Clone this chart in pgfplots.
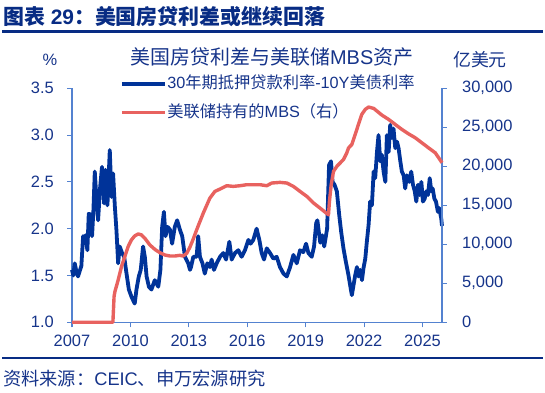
\documentclass[border=0pt]{standalone}
\usepackage{fontspec}
\setmainfont{Liberation Sans}
\newfontfamily\cjk{Noto Sans CJK SC}
\usepackage{pgfplots}
\usepackage{pgfplotstable}
\pgfplotsset{compat=1.18}
\definecolor{sblue}{RGB}{0,51,153}
\definecolor{sred}{RGB}{232,98,95}
\definecolor{axc}{RGB}{84,130,208}
\definecolor{txt}{RGB}{22,52,138}
\definecolor{hdr}{RGB}{8,44,132}

\pgfplotstableread{
year spread
2007.00 1.56
2007.07 1.50
2007.14 1.63
2007.22 1.55
2007.31 1.49
2007.40 1.55
2007.48 1.60
2007.57 1.92
2007.63 1.88
2007.69 1.93
2007.79 1.77
2007.86 2.16
2007.96 2.15
2008.03 1.92
2008.10 2.20
2008.17 2.61
2008.25 2.34
2008.34 2.09
2008.44 2.43
2008.54 2.66
2008.65 2.27
2008.72 2.63
2008.82 2.25
2008.94 2.84
2009.03 2.34
2009.11 2.59
2009.20 2.24
2009.28 1.99
2009.37 1.63
2009.45 1.81
2009.57 1.74
2009.68 1.70
2009.80 1.52
2009.92 1.35
2010.06 1.27
2010.22 1.20
2010.31 1.35
2010.43 1.49
2010.53 1.56
2010.65 1.81
2010.74 1.70
2010.83 1.49
2010.95 1.38
2011.08 1.35
2011.25 1.45
2011.43 1.38
2011.54 1.56
2011.63 2.02
2011.72 2.18
2011.80 1.92
2011.91 2.02
2012.03 1.99
2012.14 1.84
2012.28 2.02
2012.40 2.09
2012.54 1.99
2012.66 1.92
2012.80 1.70
2012.97 1.63
2013.06 1.56
2013.11 1.59
2013.23 1.70
2013.40 1.70
2013.48 1.92
2013.57 1.70
2013.70 1.63
2013.82 1.52
2013.95 1.63
2014.08 1.59
2014.17 1.67
2014.29 1.56
2014.43 1.63
2014.60 1.70
2014.77 1.74
2014.91 1.67
2015.08 1.86
2015.20 1.67
2015.37 1.74
2015.54 1.77
2015.71 1.70
2015.88 1.77
2016.06 1.88
2016.17 1.84
2016.31 1.88
2016.48 2.00
2016.62 1.88
2016.74 1.74
2016.86 1.67
2017.00 1.79
2017.17 1.74
2017.34 1.68
2017.51 1.70
2017.68 1.59
2017.86 1.52
2018.03 1.49
2018.20 1.59
2018.37 1.72
2018.54 1.63
2018.71 1.77
2018.88 1.75
2019.02 1.84
2019.14 1.74
2019.31 1.70
2019.43 1.81
2019.54 2.06
2019.60 2.09
2019.66 1.99
2019.75 1.85
2019.85 1.93
2019.95 1.81
2020.10 2.00
2020.20 2.68
2020.30 2.72
2020.38 2.50
2020.48 2.47
2020.60 2.40
2020.72 2.15
2020.82 1.97
2020.94 1.79
2021.06 1.65
2021.20 1.50
2021.28 1.40
2021.37 1.29
2021.46 1.40
2021.54 1.50
2021.63 1.59
2021.71 1.49
2021.80 1.56
2021.89 1.45
2021.97 1.58
2022.06 1.68
2022.14 1.86
2022.23 2.04
2022.31 2.29
2022.40 2.25
2022.49 2.61
2022.57 2.54
2022.66 2.82
2022.74 3.00
2022.83 2.72
2022.91 2.79
2023.00 2.61
2023.09 2.50
2023.17 3.00
2023.26 2.82
2023.34 3.11
2023.43 2.97
2023.51 3.07
2023.60 2.86
2023.69 2.93
2023.77 2.86
2023.86 2.72
2023.94 2.61
2024.03 2.57
2024.11 2.43
2024.20 2.57
2024.32 2.50
2024.42 2.61
2024.51 2.47
2024.60 2.40
2024.68 2.29
2024.77 2.47
2024.85 2.36
2024.94 2.50
2025.02 2.29
2025.11 2.32
2025.19 2.40
2025.28 2.36
2025.37 2.54
2025.45 2.40
2025.52 2.43
2025.61 2.32
2025.69 2.29
2025.79 2.18
2025.86 2.22
2025.96 2.11
2026.00 2.03
}\spreadtbl

\pgfplotstableread{
year mbs
2007.00 0
2009.10 0
2009.16 3300
2009.20 3900
2009.37 5408
2009.54 7125
2009.71 8412
2009.88 9700
2010.05 10558
2010.22 11073
2010.40 11331
2010.57 11202
2010.74 10773
2011.00 9915
2011.25 9357
2011.51 8927
2011.77 8627
2012.03 8498
2012.28 8498
2012.54 8584
2012.71 8498
2012.89 8841
2013.05 9600
2013.23 10700
2013.40 11846
2013.74 13992
2014.08 15923
2014.34 16781
2014.60 17082
2014.94 17511
2015.28 17425
2015.63 17511
2015.97 17640
2016.31 17640
2016.66 17640
2017.00 17511
2017.26 17855
2017.68 17940
2018.03 17855
2018.37 17425
2018.71 16781
2019.06 16138
2019.40 15300
2019.74 14636
2020.17 13777
2020.22 15500
2020.31 17640
2020.43 19357
2020.60 20000
2020.77 20430
2020.94 20859
2021.11 21717
2021.20 22361
2021.37 22790
2021.54 24078
2021.71 25365
2021.88 26653
2022.06 27297
2022.23 27597
2022.49 27425
2022.66 27082
2022.91 26567
2023.26 26009
2023.60 25365
2023.94 24722
2024.28 24164
2024.63 23649
2024.97 23005
2025.31 22361
2025.66 21717
2026.00 20450
}\mbstbl

\begin{document}
\begin{tikzpicture}
\path[use as bounding box] (0,0) rectangle (545bp,393bp);
% header
\node[anchor=west, text=hdr, font=\fontsize{21}{24}\selectfont\bfseries, inner sep=0pt] at (3bp,376bp) {{\cjk\bfseries 图表} 29{\cjk\bfseries ：美国房贷利差或继续回落}};
\draw[hdr, line width=2.6bp] (2bp,361.5bp) -- (543bp,361.5bp);
% footer
\draw[hdr, line width=2.2bp] (2bp,35bp) -- (543bp,35bp);
\node[anchor=west, text=txt, font=\fontsize{18.3}{20}\selectfont, inner sep=0pt] at (3bp,14bp) {{\cjk 资料来源：}CEIC{\cjk 、申万宏源研究}};
% chart title and units
\node[text=txt, font=\fontsize{20}{22}\selectfont, inner sep=0pt] at (272bp,336bp) {{\cjk 美国房贷利差与美联储}MBS{\cjk 资产}};
\node[text=txt, font=\fontsize{16.5}{18}\selectfont, inner sep=0pt] at (50bp,333bp) {\%};
\node[text=txt, font=\fontsize{18}{20}\selectfont, inner sep=0pt] at (480bp,333bp) {\cjk 亿美元};

\begin{axis}[
  at={(72bp,70.7bp)}, anchor=south west,
  width=370bp, height=234bp, scale only axis,
  xmin=2007, xmax=2026, ymin=1, ymax=3.5,
  xtick={2007,2010,2013,2016,2019,2022,2025},
  xticklabels={2007,2010,2013,2016,2019,2022,2025},
  ytick={1,1.5,2,2.5,3,3.5},
  axis x line*=bottom, axis y line*=left,
  axis line style={axc, line width=1.1bp, -},
  tick style={axc, line width=1.1bp},
  tick align=outside, major tick length=5bp,
  /pgf/number format/assume math mode=true,
  yticklabel style={/pgf/number format/fixed, /pgf/number format/fixed zerofill, /pgf/number format/precision=1, xshift=-13bp},
  ticklabel style={text=txt, font=\fontsize{16.5}{18}\selectfont, inner sep=0pt},
  xticklabel style={yshift=-8bp},
  clip=false,
  legend style={at={(0.1297,1.057)}, anchor=north west, draw=none, fill=none,
    font=\fontsize{16.3}{18}\selectfont, text=txt, inner sep=0pt, row sep=11bp,
    nodes={inner sep=0.5bp, text height=13bp, text depth=3.5bp}},
  legend cell align=left,
  legend image code/.code={\draw[#1, line width=3.6bp] (0bp,0bp) -- (43bp,0bp);},
]
\addplot[sblue, line width=3.8bp, line join=round] table[x=year, y=spread] {\spreadtbl};
\addlegendentry{30{\cjk 年期抵押贷款利率}-10Y{\cjk 美债利率}}
\addlegendimage{sred}
\addlegendentry{{\cjk 美联储持有的}MBS{\cjk （右）}}
\end{axis}

\begin{axis}[
  at={(72bp,70.7bp)}, anchor=south west,
  width=370bp, height=234bp, scale only axis,
  xmin=2007, xmax=2026, ymin=0, ymax=30000,
  ytick={0,5000,10000,15000,20000,25000,30000},
  axis x line=none, axis y line*=right,
  axis line style={axc, line width=1.1bp, -},
  tick style={axc, line width=1.1bp},
  tick align=outside, major tick length=5bp,
  scaled y ticks=false,
  /pgf/number format/assume math mode=true,
  yticklabel style={/pgf/number format/1000 sep={,}, xshift=15bp},
  ticklabel style={text=txt, font=\fontsize{16.5}{18}\selectfont, inner sep=0pt},
  clip=false,
]
\addplot[sred, line width=3.4bp, line join=round] table[x=year, y=mbs] {\mbstbl};
\end{axis}
\end{tikzpicture}
\end{document}
